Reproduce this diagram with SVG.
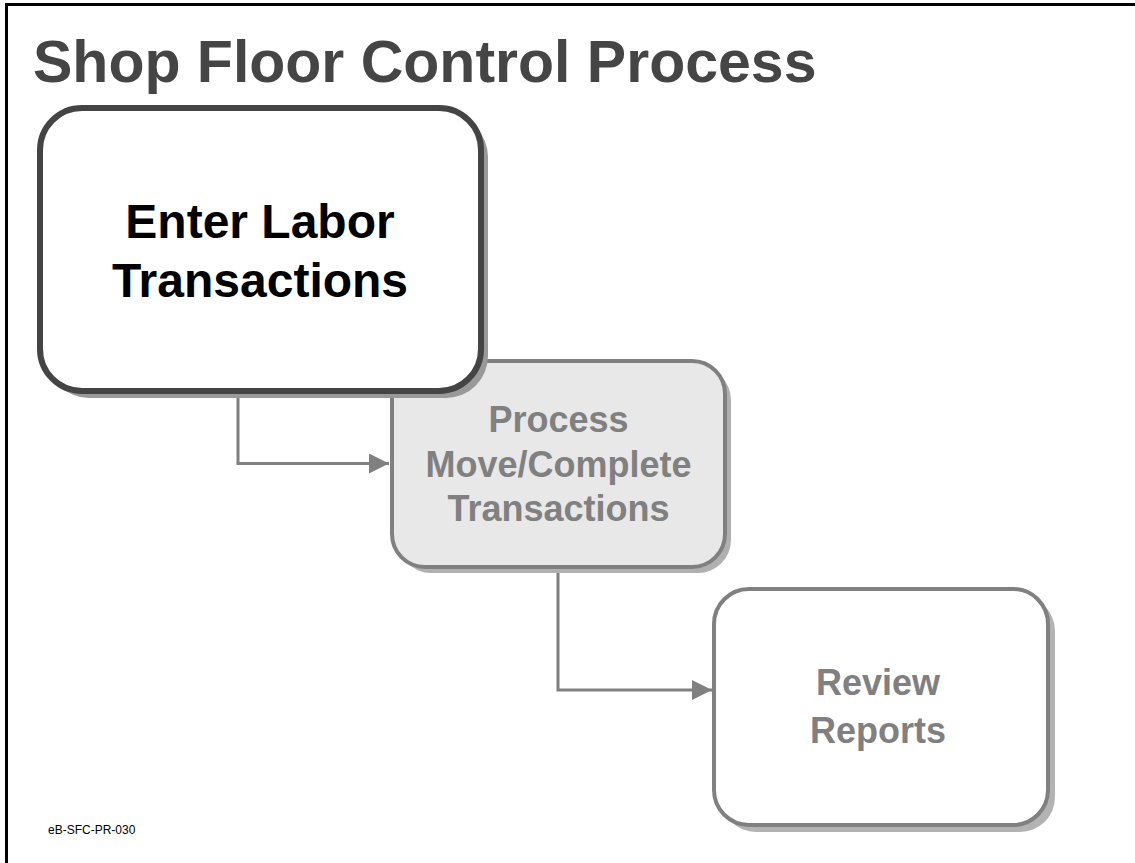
<svg xmlns="http://www.w3.org/2000/svg" width="1135" height="863" viewBox="0 0 1135 863">
  <defs>
    <style>
      .title { font-family: "Liberation Sans", Arial, sans-serif; font-weight: bold; font-size: 59px; fill: #454545; }
      .label { font-family: "Liberation Sans", Arial, sans-serif; font-weight: bold; text-anchor: middle; }
      .active { font-size: 48px; fill: #000000; }
      .muted { font-size: 36px; fill: #808080; }
      .code { font-family: "Liberation Sans", Arial, sans-serif; font-size: 12px; fill: #000000; }
      .link { fill: none; stroke: #808080; stroke-width: 3; }
    </style>
    <marker id="arrow" viewBox="0 0 20 20" refX="20" refY="10" markerWidth="20" markerHeight="20" markerUnits="userSpaceOnUse" orient="auto">
      <path d="M0,0 L20,10 L0,20 Z" fill="#808080"/>
    </marker>
  </defs>

  <rect x="0" y="0" width="1135" height="863" fill="#ffffff"/>
  <!-- page frame: left and top rule only -->
  <path d="M6.5,863 V4.5 H1135" fill="none" stroke="#000000" stroke-width="3"/>

  <text class="title" x="33" y="82">Shop Floor Control Process</text>

  <g id="connectors">
    <path class="link" d="M238,392 V463.5 H389" marker-end="url(#arrow)"/>
    <path class="link" d="M558,568 V690 H712" marker-end="url(#arrow)"/>
  </g>

  <g id="review-reports">
    <rect x="721" y="596" width="334" height="236" rx="35" fill="#b3b3b3"/>
    <rect x="714" y="589" width="334" height="236" rx="35" fill="#ffffff" stroke="#808080" stroke-width="4"/>
    <text class="label muted" x="878" y="695">Review</text>
    <text class="label muted" x="878" y="743">Reports</text>
  </g>

  <g id="process-move-complete">
    <rect x="398" y="367" width="333" height="206" rx="33" fill="#b0b0b0"/>
    <rect x="392" y="361" width="333" height="206" rx="33" fill="#e8e8e8" stroke="#808080" stroke-width="4"/>
    <text class="label muted" x="558.5" y="432">Process</text>
    <text class="label muted" x="558.5" y="477">Move/Complete</text>
    <text class="label muted" x="558.5" y="521">Transactions</text>
  </g>

  <g id="enter-labor">
    <rect x="47" y="115" width="441" height="283" rx="42" fill="#999999"/>
    <rect x="40" y="108" width="441" height="283" rx="42" fill="#ffffff" stroke="#444444" stroke-width="6"/>
    <text class="label active" x="260" y="238">Enter Labor</text>
    <text class="label active" x="260" y="297">Transactions</text>
  </g>

  <text class="code" x="48" y="834">eB-SFC-PR-030</text>
</svg>
